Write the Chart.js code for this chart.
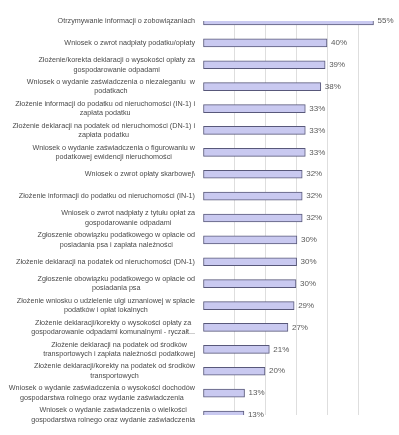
<!DOCTYPE html>
<html>
<head>
<meta charset="utf-8">
<script src="https://cdn.jsdelivr.net/npm/chart.js@4"></script>
<style>
  body { margin: 0; background: #fff; }
  #wrap { width: 399px; height: 435px; }
</style>
</head>
<body>
<div id="wrap"><canvas id="chart" width="399" height="435"></canvas></div>
<script>
// Categories (line breaks as in the original)
const categories = [
  ["Otrzymywanie informacji o zobowiązaniach"],
  ["Wniosek o zwrot nadpłaty podatku/opłaty"],
  ["Złożenie/korekta deklaracji o wysokości opłaty za", "gospodarowanie odpadami"],
  ["Wniosek o wydanie zaświadczenia o niezaleganiu  w", "podatkach"],
  ["Złożenie informacji do podatku od nieruchomości (IN-1) i", "zapłata podatku"],
  ["Złożenie deklaracji na podatek od nieruchomości (DN-1) i", "zapłata podatku"],
  ["Wniosek o wydanie zaświadczenia o figurowaniu w", "podatkowej ewidencji nieruchomości"],
  ["Wniosek o zwrot opłaty skarbowej\\"],
  ["Złożenie informacji do podatku od nieruchomości (IN-1)"],
  ["Wniosek o zwrot nadpłaty z tytułu opłat za", "gospodarowanie odpadami"],
  ["Zgłoszenie obowiązku podatkowego w opłacie od", "posiadania psa i zapłata należności"],
  ["Złożenie deklaracji na podatek od nieruchomości (DN-1)"],
  ["Zgłoszenie obowiązku podatkowego w opłacie od", "posiadania psa"],
  ["Złożenie wniosku o udzielenie ulgi uznaniowej w spłacie", "podatków i opłat lokalnych"],
  ["Złożenie deklaracji/korekty o wysokości opłaty za", "gospodarowanie odpadami komunalnymi - ryczałt..."],
  ["Złożenie deklaracji na podatek od środków", "transportowych i zapłata należności podatkowej"],
  ["Złożenie deklaracji/korekty na podatek od środków", "transportowych"],
  ["Wniosek o wydanie zaświadczenia o wysokości dochodów", "gospodarstwa rolnego oraz wydanie zaświadczenia"],
  ["Wniosek o wydanie zaświadczenia o wielkości", "gospodarstwa rolnego oraz wydanie zaświadczenia"]
];

// Percent values
const values = [55, 40, 39.4, 38, 33, 33, 33, 32, 32, 32, 30.3, 30.2, 30, 29.4, 27.4, 21.4, 20, 13.4, 13.2];

// Value labels shown next to the bars
const valueLabels = ["55%", "40%", "39%", "38%", "33%", "33%", "33%", "32%", "32%", "32%",
  "30%", "30%", "30%", "29%", "27%", "21%", "20%", "13%", "13%"];

const xTicks = [0, 10, 20, 30, 40, 50, 60];

// Category labels: right aligned block, lines centered on each other
const labelPlugin = {
  id: "labels",
  afterDatasetsDraw(chart) {
    const ctx = chart.ctx;
    const yScale = chart.scales.y;
    const meta = chart.getDatasetMeta(0);
    ctx.save();
    ctx.textBaseline = "middle";

    ctx.font = "7.2px 'Liberation Sans'";
    ctx.fillStyle = "#4a4a4a";
    ctx.textAlign = "center";
    const right = chart.chartArea.left - 8;
    const lineH = 9.5;
    categories.forEach((lines, i) => {
      const y = yScale.getPixelForTick(i);
      const maxW = Math.max(...lines.map(l => ctx.measureText(l).width));
      const cx = right - maxW / 2;
      const y0 = y - (lines.length - 1) * lineH / 2;
      lines.forEach((l, j) => ctx.fillText(l, cx, y0 + j * lineH));
    });

    ctx.font = "8px 'Liberation Sans'";
    ctx.fillStyle = "#595959";
    ctx.textAlign = "left";
    meta.data.forEach((bar, i) => {
      ctx.fillText(valueLabels[i], bar.x + 4, bar.y);
    });
    ctx.restore();
  }
};

const ctx = document.getElementById("chart").getContext("2d");

new Chart(ctx, {
  type: "bar",
  data: {
    labels: categories,
    datasets: [{
      data: values,
      backgroundColor: function (context) {
        const bar = context.element;
        if (!bar || bar.y === undefined) return "#c9c9f0";
        const g = context.chart.ctx.createLinearGradient(0, bar.y - 4, 0, bar.y + 4);
        g.addColorStop(0, "#e4e4fa");
        g.addColorStop(0.5, "#c4c4f0");
        g.addColorStop(1, "#b4b4e6");
        return g;
      },
      borderColor: "#58587a",
      borderWidth: 1,
      borderSkipped: false,
      barThickness: 8
    }]
  },
  options: {
    indexAxis: "y",
    responsive: false,
    animation: false,
    layout: { padding: { left: 195, right: 10, top: 21, bottom: 20 } },
    plugins: { legend: { display: false }, tooltip: { enabled: false } },
    scales: {
      x: {
        min: xTicks[0],
        max: xTicks[xTicks.length - 1],
        afterBuildTicks: scale => { scale.ticks = xTicks.map(v => ({ value: v })); },
        ticks: { display: false },
        border: { display: false },
        grid: {
          color: c => (c.tick && (c.tick.value === 0 || c.tick.value === 60)) ? "rgba(0,0,0,0)" : "#dedede",
          drawTicks: false
        }
      },
      y: {
        offset: false,
        ticks: { display: false },
        border: { display: false },
        grid: { display: false }
      }
    }
  },
  plugins: [labelPlugin]
});
</script>
</body>
</html>
